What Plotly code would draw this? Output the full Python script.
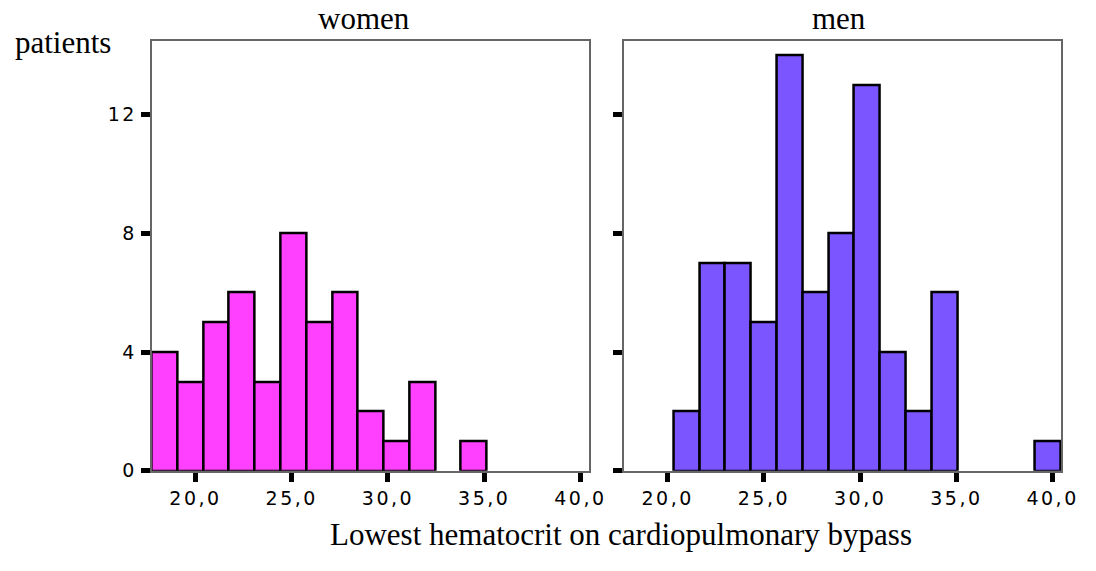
import plotly.graph_objects as go

# ---- data ----
bin_width = 1.34
women_first_edge = 17.72
women_counts = [4, 3, 5, 6, 3, 8, 5, 6, 2, 1, 3, 0, 1]
men_first_edge = 20.31
men_counts = [2, 7, 7, 5, 14, 6, 8, 13, 4, 2, 6, 0, 0, 0, 1]

x_tickvals = [20, 25, 30, 35, 40]
x_ticktext = ["20,0", "25,0", "30,0", "35,0", "40,0"]
y_tickvals = [0, 4, 8, 12]
y_ticktext = ["0", "4", "8", "12"]

women_color = "#ff40ff"
men_color = "#7b55ff"

W, H = 1096, 571


def centers(first_edge, counts):
    return [first_edge + bin_width * (i + 0.5) for i in range(len(counts))]


def heights(counts):
    # empty bins are not drawn at all
    return [c if c else None for c in counts]


fig = go.Figure()
fig.add_trace(go.Bar(
    x=centers(women_first_edge, women_counts), y=heights(women_counts), width=bin_width,
    marker=dict(color=women_color, line=dict(color="black", width=2.5)),
    xaxis="x", yaxis="y", showlegend=False, hoverinfo="x+y"))
fig.add_trace(go.Bar(
    x=centers(men_first_edge, men_counts), y=heights(men_counts), width=bin_width,
    marker=dict(color=men_color, line=dict(color="black", width=2.5)),
    xaxis="x2", yaxis="y2", showlegend=False, hoverinfo="x+y"))

tickfont = dict(family="DejaVu Sans", size=19, color="black")
frame = dict(showline=True, linecolor="#666666", linewidth=2, mirror=True,
             showgrid=False, zeroline=False, ticks="outside", ticklen=9,
             tickwidth=5, tickcolor="black", tickfont=tickfont)

ydom = [1 - 480 / H, 1 - 42 / H]
fig.update_layout(
    width=W, height=H, margin=dict(l=0, r=0, t=0, b=0),
    paper_bgcolor="white", plot_bgcolor="white", bargap=0,
    xaxis=dict(domain=[153.3 / W, 596 / W], range=[17.72, 40.47],
               tickvals=x_tickvals, ticktext=x_ticktext, anchor="y", **frame),
    yaxis=dict(domain=ydom, range=[0, 14.47], tickvals=y_tickvals,
               ticktext=y_ticktext, anchor="x", **frame),
    xaxis2=dict(domain=[630.7 / W, 1073 / W], range=[17.72, 40.45],
                tickvals=x_tickvals, ticktext=x_ticktext, anchor="y2", **frame),
    yaxis2=dict(domain=ydom, range=[0, 14.47], tickvals=y_tickvals,
                showticklabels=False, anchor="x2", **frame),
)

serif = dict(family="Liberation Serif", size=31, color="black")
ann = [
    dict(text="patients", x=13 / W, y=1 - 43 / H, xanchor="left", yanchor="middle"),
    dict(text="women", x=368 / W, y=1 - 18.5 / H, xanchor="center", yanchor="middle"),
    dict(text="men", x=848 / W, y=1 - 18.5 / H, xanchor="center", yanchor="middle"),
    dict(text="Lowest hematocrit on cardiopulmonary bypass", x=331.5 / W,
         y=1 - 545 / H, xanchor="left", yanchor="middle"),
]
for a in ann:
    fig.add_annotation(xref="paper", yref="paper", showarrow=False, font=serif, **a)

# the original tick labels are set with a little extra letter spacing
post = """
document.querySelectorAll('.xtick text, .x2tick text, .ytick text').forEach(function(t){
  t.style.letterSpacing = '2.5px';
});
"""
fig.write_html("out.html", post_script=post)
